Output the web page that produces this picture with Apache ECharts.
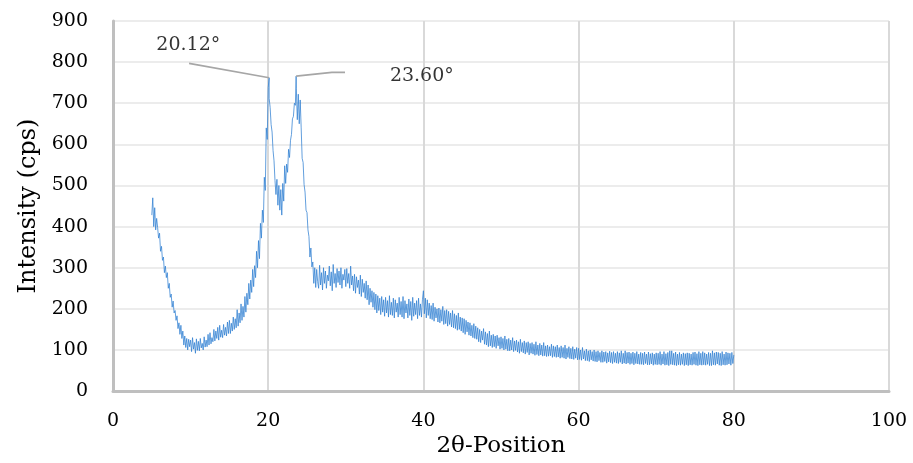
<!DOCTYPE html>
<html>
<head>
<meta charset="utf-8">
<script src="https://cdn.jsdelivr.net/npm/echarts@6/dist/echarts.min.js"></script>
<style>
  html, body { margin: 0; padding: 0; background: #ffffff; }
  #chart { width: 913px; height: 463px; }
</style>
</head>
<body>
<div id="chart"></div>
<script>
// Powder XRD scan: intensity (cps) sampled every 0.125° of 2θ from 5° to 80°
// (one row per degree, 8 readings each)
const scanStart = 5;
const scanStep = 0.125;
const intensity = [
  428, 470, 400, 446, 392, 420, 398, 372,   // 5
  384, 340, 352, 318, 326, 288, 304, 276,   // 6
  288, 250, 262, 228, 236, 204, 219, 190,   // 7
  196, 172, 183, 152, 166, 138, 160, 128,   // 8
  146, 112, 134, 106, 128, 100, 126, 108,   // 9
  124, 96, 130, 102, 118, 92, 127, 99,      // 10
  121, 98, 128, 105, 116, 100, 132, 107,    // 11
  124, 108, 138, 112, 142, 115, 130, 120,   // 12
  150, 122, 146, 128, 155, 124, 160, 131,   // 13
  148, 130, 162, 136, 155, 134, 168, 140,   // 14
  172, 140, 165, 146, 180, 150, 176, 154,   // 15
  198, 158, 190, 166, 212, 172, 206, 180,   // 16
  230, 192, 238, 210, 262, 224, 270, 240,   // 17
  296, 254, 305, 276, 340, 300, 366, 322,   // 18
  408, 372, 440, 410, 520, 488, 640, 612,   // 19
  738, 712, 690, 648, 630, 585, 560, 512,   // 20
  478, 515, 452, 500, 440, 490, 428, 505,   // 21
  462, 548, 505, 552, 532, 588, 568, 610,   // 22
  624, 662, 668, 700, 695, 735, 660, 722,   // 23
  650, 708, 640, 566, 556, 502, 484, 440,   // 24
  434, 392, 376, 326, 348, 302, 314, 262,   // 25
  300, 252, 296, 266, 250, 306, 258, 288,   // 26
  246, 300, 262, 292, 250, 282, 268, 304,   // 27
  256, 290, 244, 308, 262, 286, 252, 298,   // 28
  264, 292, 258, 300, 250, 284, 270, 296,   // 29
  254, 298, 262, 286, 250, 304, 258, 280,   // 30
  244, 284, 238, 278, 252, 270, 236, 282,   // 31
  230, 272, 240, 262, 226, 268, 222, 258,   // 32
  210, 250, 216, 244, 204, 240, 198, 236,   // 33
  190, 232, 196, 226, 186, 230, 192, 222,   // 34
  182, 228, 190, 220, 180, 232, 186, 216,   // 35
  184, 226, 178, 222, 192, 214, 180, 228,   // 36
  186, 218, 180, 230, 176, 220, 190, 212,   // 37
  178, 224, 184, 218, 172, 228, 182, 214,   // 38
  186, 220, 176, 226, 184, 212, 180, 222,   // 39
  244, 188, 226, 178, 222, 184, 214, 176,   // 40
  208, 174, 214, 170, 204, 178, 200, 168,   // 41
  202, 166, 198, 170, 206, 162, 196, 164,   // 42
  198, 158, 194, 162, 190, 156, 196, 154,   // 43
  188, 152, 184, 148, 190, 150, 180, 146,   // 44
  178, 142, 176, 138, 172, 144, 168, 136,   // 45
  166, 134, 160, 130, 164, 128, 158, 126,   // 46
  154, 120, 150, 118, 146, 124, 152, 114,   // 47
  144, 112, 140, 108, 146, 110, 136, 106,   // 48
  138, 108, 134, 104, 136, 110, 130, 102,   // 49
  132, 104, 128, 100, 134, 102, 126, 98,    // 50
  128, 98, 124, 100, 130, 96, 122, 99,      // 51
  124, 95, 120, 92, 126, 96, 118, 93,       // 52
  122, 90, 118, 94, 120, 88, 116, 92,       // 53
  118, 90, 114, 87, 120, 89, 112, 86,       // 54
  116, 88, 112, 85, 118, 86, 110, 84,       // 55
  112, 85, 108, 86, 114, 82, 110, 84,       // 56
  108, 82, 112, 83, 106, 80, 110, 82,       // 57
  106, 80, 112, 78, 104, 82, 108, 79,       // 58
  104, 78, 108, 77, 102, 80, 106, 76,       // 59
  104, 77, 100, 75, 106, 78, 98, 74,        // 60
  102, 74, 98, 72, 100, 76, 96, 73,         // 61
  100, 72, 96, 71, 98, 74, 94, 70,          // 62
  98, 70, 95, 72, 96, 68, 93, 71,           // 63
  97, 69, 94, 67, 96, 70, 92, 68,           // 64
  96, 67, 93, 70, 98, 66, 92, 68,           // 65
  98, 66, 94, 68, 95, 65, 92, 67,           // 66
  95, 64, 92, 67, 96, 66, 90, 65,           // 67
  94, 65, 92, 64, 95, 67, 90, 64,           // 68
  95, 64, 91, 66, 93, 63, 90, 65,           // 69
  93, 64, 92, 65, 96, 63, 90, 66,           // 70
  96, 63, 91, 64, 94, 62, 98, 65,           // 71
  98, 64, 92, 63, 95, 62, 90, 64,           // 72
  94, 63, 90, 65, 93, 62, 91, 64,           // 73
  93, 62, 92, 64, 90, 63, 94, 65,           // 74
  95, 63, 91, 62, 96, 64, 92, 63,           // 75
  96, 64, 93, 63, 90, 65, 94, 62,           // 76
  92, 62, 98, 64, 93, 63, 95, 66,           // 77
  94, 63, 92, 62, 96, 64, 90, 63,           // 78
  95, 64, 93, 66, 92, 63, 94, 67,           // 79
  88                                        // 80
];

// Indexed reflections
const peakPos = [20.12, 23.60];
const peakCps = [762, 766];

// Axis ranges
const xMin = 0, xMax = 100, xStep = 20;
const yMin = 0, yMax = 900, yStep = 100;

// Build the scan as [2θ, cps] pairs, with the reflection maxima merged in
const scan = intensity.map((v, i) => [+(scanStart + i * scanStep).toFixed(3), v]);
peakPos.forEach((p, k) => scan.push([p, peakCps[k]]));
scan.sort((a, b) => a[0] - b[0]);

const serif = 'DejaVu Serif';
const leaderStyle = { color: '#a6a6a6', width: 1.6 };

const chart = echarts.init(document.getElementById('chart'), null, { renderer: 'canvas' });
chart.setOption({
  animation: false,
  backgroundColor: '#ffffff',
  grid: { left: 113, right: 24, top: 21, bottom: 69 },
  xAxis: {
    type: 'value',
    min: xMin, max: xMax, interval: xStep,
    name: '2θ-Position',
    nameLocation: 'middle',
    nameGap: 42,
    nameTextStyle: { fontFamily: serif, fontSize: 23, color: '#000' },
    axisLine: { show: true, onZero: false, lineStyle: { color: '#bfbfbf', width: 3 } },
    axisTick: { show: false },
    axisLabel: { fontFamily: serif, fontSize: 19, color: '#000', margin: 20 },
    splitLine: { show: true, lineStyle: { color: '#d9d9d9', width: 2 } }
  },
  yAxis: {
    type: 'value',
    min: yMin, max: yMax, interval: yStep,
    name: 'Intensity (cps)',
    nameLocation: 'middle',
    nameGap: 72,
    nameTextStyle: { fontFamily: serif, fontSize: 24, color: '#000' },
    axisLine: { show: true, lineStyle: { color: '#bfbfbf', width: 3 } },
    axisTick: { show: false },
    axisLabel: { fontFamily: serif, fontSize: 19, color: '#000', margin: 25 },
    splitLine: { show: true, lineStyle: { color: '#e6e6e6', width: 1.5 } }
  },
  series: [
    {
      name: 'XRD',
      type: 'line',
      data: scan,
      showSymbol: false,
      symbol: 'none',
      lineStyle: { color: '#2f7fd1', width: 0.75 },
      z: 3
    },
    // leader lines from the peak labels to the reflection maxima
    {
      type: 'line', symbol: 'none', silent: true, z: 4,
      lineStyle: leaderStyle,
      data: [[9.8, 797], [peakPos[0], peakCps[0]]]
    },
    {
      type: 'line', symbol: 'none', silent: true, z: 4,
      lineStyle: leaderStyle,
      data: [[peakPos[1], peakCps[1]], [28.2, 775], [29.9, 775]]
    },
    // peak position labels
    {
      type: 'scatter', symbolSize: 0, silent: true, z: 5,
      label: {
        show: true, position: 'inside',
        fontFamily: serif, fontSize: 19, color: '#000',
        formatter: (p) => p.value[2].toFixed(2) + '°'
      },
      data: [[9.7, 842, peakPos[0]], [39.8, 767, peakPos[1]]]
    }
  ]
});
</script>
</body>
</html>
